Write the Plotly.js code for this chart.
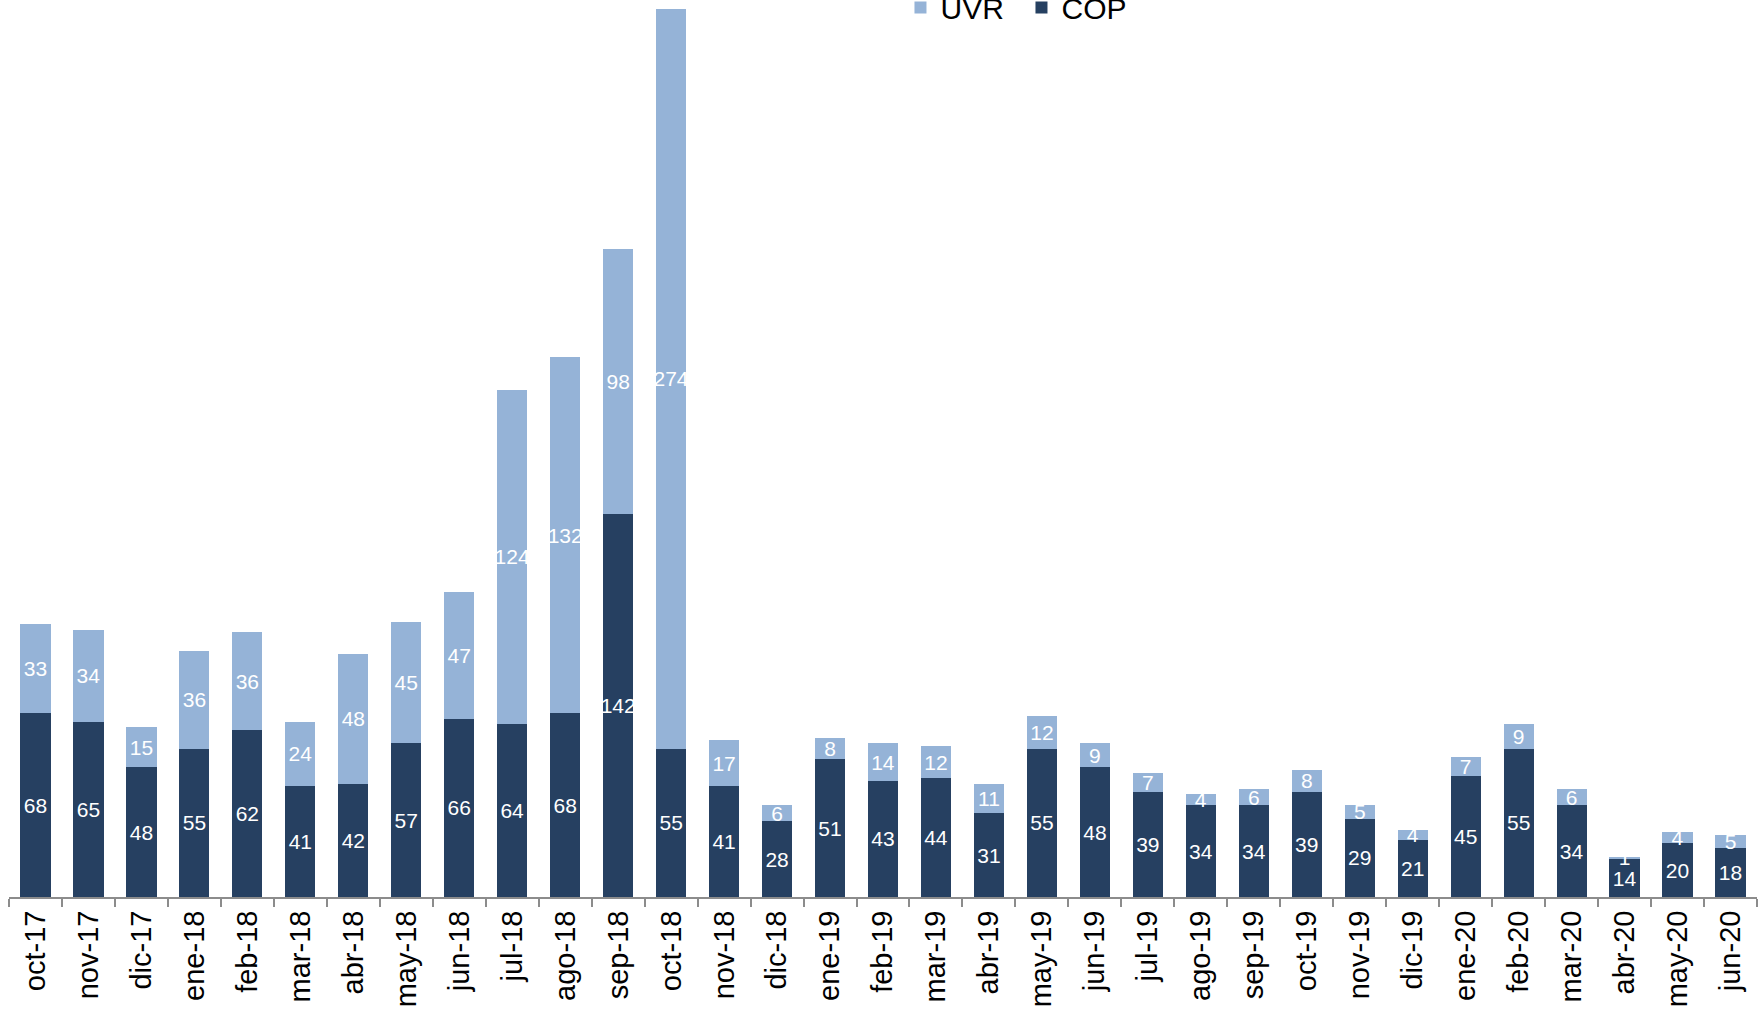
<!DOCTYPE html>
<html>
<head>
<meta charset="utf-8">
<script src="https://cdn.plot.ly/plotly-3.0.1.min.js"></script>
<style>html,body{margin:0;padding:0;background:#fff;}#chart{width:1762px;height:1010px;}</style>
</head>
<body>
<div id="chart"></div>
<script>
const categories = ['oct-17','nov-17','dic-17','ene-18','feb-18','mar-18','abr-18','may-18','jun-18','jul-18','ago-18','sep-18','oct-18','nov-18','dic-18','ene-19','feb-19','mar-19','abr-19','may-19','jun-19','jul-19','ago-19','sep-19','oct-19','nov-19','dic-19','ene-20','feb-20','mar-20','abr-20','may-20','jun-20'];
const cop = [68,65,48,55,62,41,42,57,66,64,68,142,55,41,28,51,43,44,31,55,48,39,34,34,39,29,21,45,55,34,14,20,18];
const uvr = [33,34,15,36,36,24,48,45,47,124,132,98,274,17,6,8,14,12,11,12,9,7,4,6,8,5,4,7,9,6,1,4,5];

const font = 'Liberation Sans, Arial, sans-serif';
const common = {
  type: 'bar',
  x: categories,
  texttemplate: '%{y}',
  textposition: 'inside',
  insidetextanchor: 'middle',
  textangle: 0,
  constraintext: 'none',
  textfont: {family: font, size: 21, color: '#ffffff'},
  hoverinfo: 'x+y+name'
};
const traces = [
  Object.assign({}, common, {name: 'COP', y: cop, marker: {color: '#264061'}}),
  Object.assign({}, common, {name: 'UVR', y: uvr, marker: {color: '#95B3D7'}})
];
const layout = {
  width: 1762, height: 1010,
  margin: {l: 9, r: 5, t: 0, b: 113, autoexpand: false},
  paper_bgcolor: '#fff', plot_bgcolor: '#fff',
  barmode: 'stack',
  bargap: 0.43,
  showlegend: true,
  legend: {
    orientation: 'h', traceorder: 'reversed',
    x: 0.510, xanchor: 'left', y: 0.9916, yanchor: 'middle',
    bgcolor: 'rgba(0,0,0,0)',
    font: {family: font, size: 30, color: '#000'},
    entrywidth: 76
  },
  xaxis: {
    type: 'category',
    showline: true, linecolor: '#8c8c8c', linewidth: 2,
    ticks: 'outside', tickson: 'boundaries', ticklen: 8, tickcolor: '#8c8c8c', tickwidth: 2,
    tickangle: -90,
    tickfont: {family: font, size: 29, color: '#000'},
    showgrid: false, zeroline: false
  },
  yaxis: {
    range: [0, 332.3],
    showticklabels: false, showgrid: false, zeroline: false, showline: false, ticks: ''
  }
};
Plotly.newPlot('chart', traces, layout, {displayModeBar: false, staticPlot: true});
</script>
</body>
</html>
